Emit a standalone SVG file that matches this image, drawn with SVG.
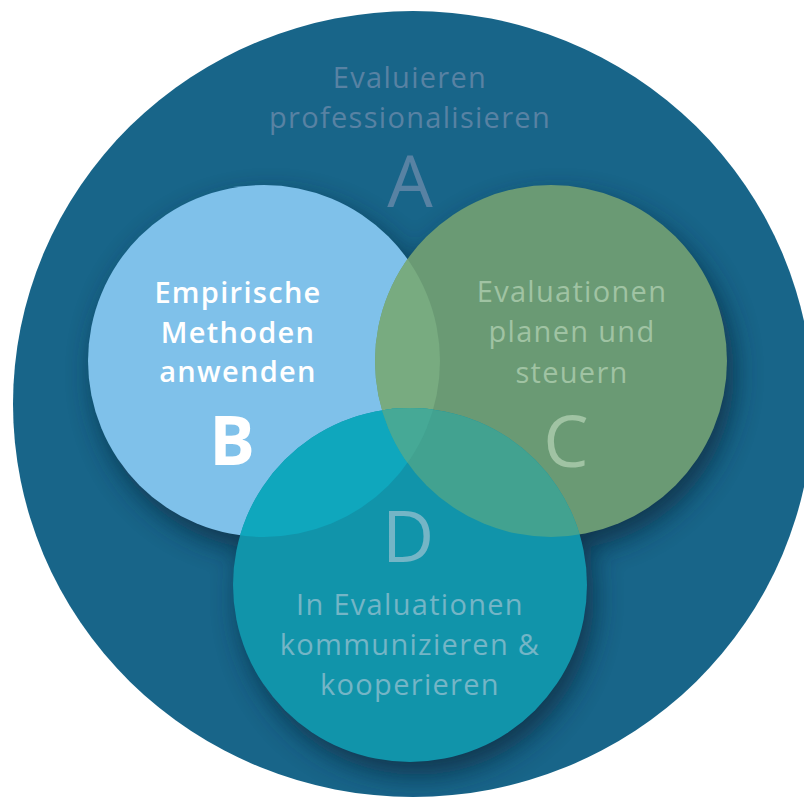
<svg xmlns="http://www.w3.org/2000/svg" width="804" height="802" viewBox="0 0 804 802">
<style>
  .t { font-family: "Open Sans", "Noto Sans", "DejaVu Sans", sans-serif; font-size: 29px; text-anchor: middle; letter-spacing: 1.3px; }
  .big { font-family: "Open Sans", "Noto Sans", "DejaVu Sans", sans-serif; font-size: 72px; text-anchor: middle; }
  .ta { fill: #5882a3; }
  .tb { fill: #ffffff; font-weight: 600; }
  .tc { fill: #a0c3a3; }
  .td { fill: #74b5c6; }
</style>
<defs>
  <clipPath id="clipBig"><ellipse cx="413" cy="404" rx="400" ry="393"/></clipPath>
  <clipPath id="clipB"><circle cx="264" cy="361" r="176"/></clipPath>
  <clipPath id="clipC"><circle cx="551" cy="361" r="176"/></clipPath>
  <filter id="blur" x="-30%" y="-30%" width="160%" height="160%"><feGaussianBlur stdDeviation="14"/></filter>
</defs>
<rect width="804" height="802" fill="#ffffff"/>
<g id="node-A">
  <ellipse cx="413" cy="404" rx="400" ry="393" fill="#186589"/>
  <g clip-path="url(#clipBig)">
    <g filter="url(#blur)" opacity="0.8" transform="translate(7,13)" fill="#0a2c40">
      <circle cx="264" cy="361" r="176"/>
      <circle cx="551" cy="361" r="176"/>
      <circle cx="410" cy="585" r="177"/>
    </g>
  </g>
  <text class="t ta" x="410" y="88">Evaluieren</text>
  <text class="t ta" x="410" y="128">professionalisieren</text>
  <text class="big ta" x="410" y="207">A</text>
</g>
<g id="node-B">
  <circle cx="264" cy="361" r="176" fill="#7fc1ea"/>
</g>
<g id="node-C">
  <circle cx="551" cy="361" r="176" fill="#6a9a74"/>
</g>
<g id="overlaps">
  <circle cx="551" cy="361" r="176" fill="#78ab80" clip-path="url(#clipB)"/>
</g>
<g id="node-D">
  <circle cx="410" cy="585" r="177" fill="#1194aa"/>
  <circle cx="410" cy="585" r="177" fill="#0fa7bd" clip-path="url(#clipB)"/>
  <circle cx="410" cy="585" r="177" fill="#42a290" clip-path="url(#clipC)"/>
  <g clip-path="url(#clipC)">
    <circle cx="410" cy="585" r="177" fill="#46a996" clip-path="url(#clipB)"/>
  </g>
</g>
<g id="labels-B">
  <text class="t tb" x="238" y="303">Empirische</text>
  <text class="t tb" x="238" y="343">Methoden</text>
  <text class="t tb" x="238" y="382">anwenden</text>
  <text class="big tb" x="232" y="465" style="font-weight:700;font-size:68px">B</text>
</g>
<g id="labels-C">
  <text class="t tc" x="572" y="302">Evaluationen</text>
  <text class="t tc" x="572" y="342">planen und</text>
  <text class="t tc" x="572" y="383">steuern</text>
  <text class="big tc" x="566" y="467">C</text>
</g>
<g id="labels-D">
  <text class="big td" x="408" y="562">D</text>
  <text class="t td" x="410" y="615">In Evaluationen</text>
  <text class="t td" x="410" y="655">kommunizieren &amp;</text>
  <text class="t td" x="410" y="695">kooperieren</text>
</g>
<g id="connectors"/>
</svg>
